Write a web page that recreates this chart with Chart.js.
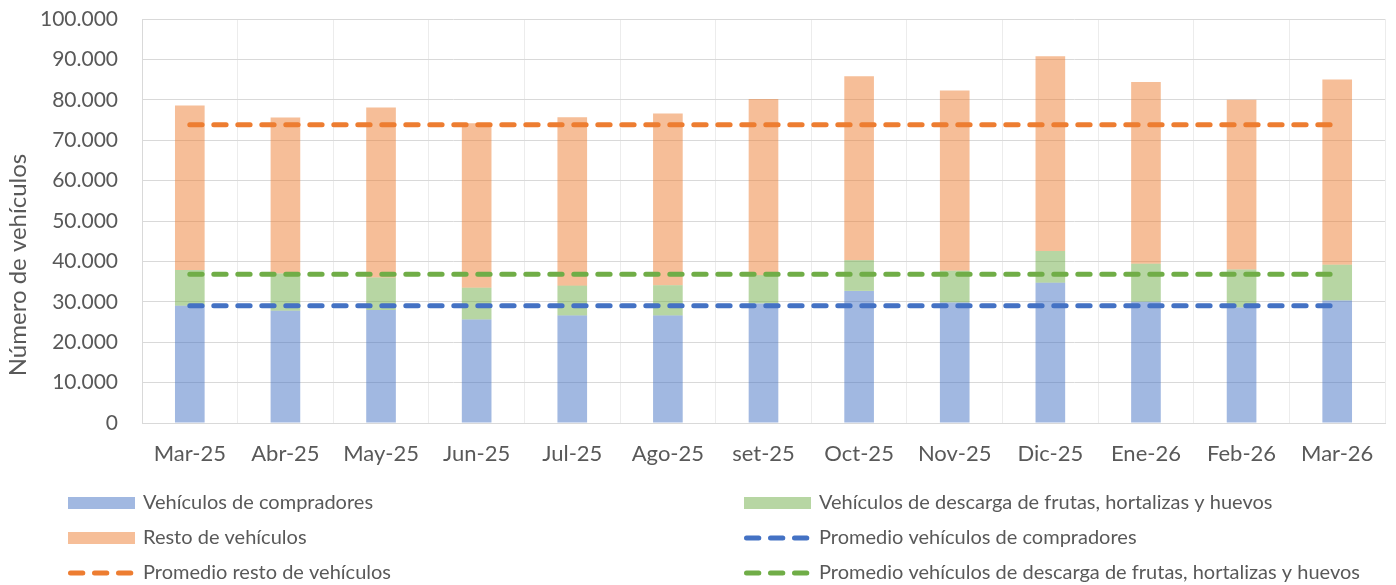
<!DOCTYPE html>
<html>
<head>
<meta charset="utf-8">
<script src="https://cdn.jsdelivr.net/npm/chart.js@4.4.1/dist/chart.umd.min.js"></script>
<style>
  html, body { margin: 0; padding: 0; background: #fff; }
  canvas { display: block; }
</style>
</head>
<body>
<canvas id="graficoVehiculos" width="1396" height="585"></canvas>
<script>
// datos
const meses = ['Mar-25', 'Abr-25', 'May-25', 'Jun-25', 'Jul-25', 'Ago-25', 'set-25',
               'Oct-25', 'Nov-25', 'Dic-25', 'Ene-26', 'Feb-26', 'Mar-26'];
const compradores = [29000, 27800, 28000, 25600, 26600, 26600, 29600, 32700, 29800, 34700, 30000, 28600, 30300];
const descarga    = [8900, 9200, 8000, 7900, 7400, 7500, 7000, 7600, 7900, 7900, 9400, 9400, 8900];
const resto       = [40700, 38600, 42100, 40700, 41700, 42500, 43600, 45500, 44600, 48200, 45000, 42000, 45800];
const promCompradores = [29000, 29000, 29000, 29000, 29000, 29000, 29000, 29000, 29000, 29000, 29000, 29000, 29000];
const promResto       = [73800, 73800, 73800, 73800, 73800, 73800, 73800, 73800, 73800, 73800, 73800, 73800, 73800];
const promDescarga    = [36800, 36800, 36800, 36800, 36800, 36800, 36800, 36800, 36800, 36800, 36800, 36800, 36800];

const gris = '#595959';
const guion = [12.3, 11.7];

Chart.defaults.font.family = 'Lato';
Chart.defaults.color = gris;

// leyenda en dos columnas, como en Excel
const leyenda = {
  id: 'leyenda',
  afterDraw(chart) {
    const ctx = chart.ctx;
    const cols = [68, 744];
    const filas = [503, 538, 573];
    chart.data.datasets.forEach((ds, i) => {
      const x = cols[i % 2];
      const y = filas[Math.floor(i / 2)];
      ctx.save();
      if (ds.type === 'line') {
        ctx.strokeStyle = ds.borderColor;
        ctx.lineWidth = 5;
        ctx.lineCap = 'round';
        ctx.setLineDash(guion);
        ctx.beginPath();
        ctx.moveTo(x + 2.5, y);
        ctx.lineTo(x + 65, y);
        ctx.stroke();
      } else {
        ctx.fillStyle = ds.backgroundColor;
        ctx.fillRect(x, y - 6, 67, 12);
      }
      ctx.fillStyle = gris;
      ctx.font = '20px Lato';
      ctx.textBaseline = 'middle';
      ctx.fillText(ds.label, x + 75, y);
      ctx.restore();
    });
  }
};

// titulo del eje Y (centrado mas abajo que el area, como el original)
const tituloY = {
  id: 'tituloY',
  afterDraw(chart) {
    const ctx = chart.ctx;
    ctx.save();
    ctx.translate(18, 265);
    ctx.rotate(-Math.PI / 2);
    ctx.fillStyle = gris;
    ctx.font = '24px Lato';
    ctx.textAlign = 'center';
    ctx.textBaseline = 'middle';
    ctx.fillText('Número de vehículos', 0, 0);
    ctx.restore();
  }
};

new Chart(document.getElementById('graficoVehiculos'), {
  data: {
    labels: meses,
    datasets: [
      { type: 'bar', label: 'Vehículos de compradores', data: compradores,
        backgroundColor: 'rgba(68,114,196,0.5)', stack: 'barras', order: 1 },
      { type: 'bar', label: 'Vehículos de descarga de frutas, hortalizas y huevos', data: descarga,
        backgroundColor: 'rgba(112,173,71,0.5)', stack: 'barras', order: 1 },
      { type: 'bar', label: 'Resto de vehículos', data: resto,
        backgroundColor: 'rgba(237,125,49,0.5)', stack: 'barras', order: 1 },
      { type: 'line', label: 'Promedio vehículos de compradores', data: promCompradores,
        borderColor: '#4472C4', stack: 'p1', order: 0 },
      { type: 'line', label: 'Promedio resto de vehículos', data: promResto,
        borderColor: '#ED7D31', stack: 'p2', order: 0 },
      { type: 'line', label: 'Promedio vehículos de descarga de frutas, hortalizas y huevos', data: promDescarga,
        borderColor: '#70AD47', stack: 'p3', order: 0 }
    ].map(ds => ds.type === 'line'
      ? Object.assign(ds, { borderWidth: 5, borderDash: guion, borderCapStyle: 'round',
                            pointRadius: 0, fill: false, tension: 0 })
      : Object.assign(ds, { categoryPercentage: 1, barPercentage: 0.31 }))
  },
  options: {
    responsive: false,
    animation: false,
    layout: { padding: { top: 19, right: 11, left: 0, bottom: 0 } },
    plugins: {
      legend: { display: false },
      tooltip: { enabled: false }
    },
    scales: {
      x: {
        stacked: true,
        grid: { color: '#ECECEC', drawTicks: false, offset: true },
        border: { color: '#D9D9D9' },
        ticks: { padding: 18, font: { size: 22 }, color: gris, maxRotation: 0 },
        afterFit: s => { s.height = 162; }
      },
      y: {
        stacked: true,
        min: 0,
        max: 100000,
        grid: { color: '#D9D9D9', drawTicks: false },
        border: { color: '#D9D9D9' },
        ticks: {
          stepSize: 10000,
          padding: 24,
          font: { size: 21 },
          color: gris,
          callback: v => v.toString().replace(/\B(?=(\d{3})+(?!\d))/g, '.')
        },
        afterFit: s => { s.width = 142; s.paddingTop = 0; s.paddingBottom = 0; }
      }
    }
  },
  plugins: [leyenda, tituloY]
});
</script>
</body>
</html>
